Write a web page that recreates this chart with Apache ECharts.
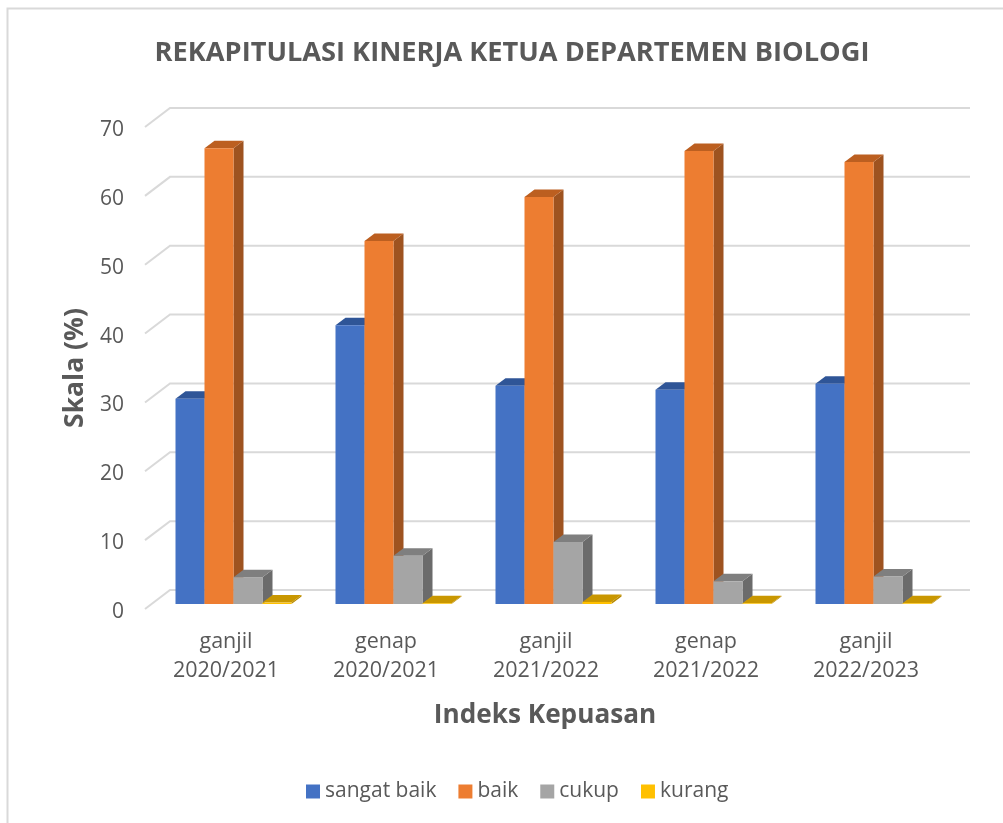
<!DOCTYPE html>
<html><head><meta charset="utf-8">
<style>html,body{margin:0;padding:0;background:#fff}#c{width:1003px;height:823px}</style>
<script src="https://cdn.jsdelivr.net/npm/echarts@6/dist/echarts.min.js"></script>
</head><body><div id="c"></div>
<script>
const categories = ['ganjil\n2020/2021','genap\n2020/2021','ganjil\n2021/2022','genap\n2021/2022','ganjil\n2022/2023'];
const sangatBaik = [29.8, 40.5, 31.7, 31.1, 32.0];
const baik = [66.2, 52.7, 59.1, 65.8, 64.2];
const cukup = [3.9, 7.0, 9.0, 3.3, 4.0];
const kurang = [0.2, 0.1, 0.3, 0.1, 0.1];
const yTicks = [0,10,20,30,40,50,60,70];

const FONT = '"Open Sans", "Noto Sans", sans-serif';
const TEXT = '#595959';
const WALL = [25,-19], PLANE = [8.5,-5], DEPTH = [10,-7.5];
const BAR_SHARE = 29/160, GRID_LINE = '#d9d9d9';

const chart = echarts.init(document.getElementById('c'), null, {renderer:'canvas'});

function barSeries(name, data, index, front, side, top){
  return {
    name, type:'custom', coordinateSystem:'cartesian2d', z:3,
    itemStyle:{color:front},
    data:data.map((v,i)=>[i,v]),
    encode:{x:0,y:1},
    renderItem(params, api){
      const bw = api.size([1,0])[0]*BAR_SHARE;
      const t = api.coord([api.value(0), api.value(1)]);
      const b = api.coord([api.value(0), 0]);
      const x0 = t[0] + PLANE[0] + (index-2)*bw, x1 = x0+bw;
      const yt = t[1] + PLANE[1], yb = b[1] + PLANE[1];
      const dx = DEPTH[0], dy = DEPTH[1];
      return {type:'group', children:[
        {type:'polygon', shape:{points:[[x1,yt],[x1+dx,yt+dy],[x1+dx,yb+dy],[x1,yb]]}, style:{fill:side}},
        {type:'polygon', shape:{points:[[x0,yt],[x0+dx,yt+dy],[x1+dx,yt+dy],[x1,yt]]}, style:{fill:top}},
        {type:'rect', shape:{x:x0,y:yt,width:bw,height:yb-yt}, style:{fill:front}}
      ]};
    }
  };
}

const wallSeries = {
  type:'custom', coordinateSystem:'cartesian2d', z:1, silent:true, legendHoverLink:false,
  data:yTicks.map(v=>[0,v]), encode:{x:0,y:1},
  renderItem(params, api){
    const band = api.size([1,0])[0];
    const p = api.coord([0, api.value(1)]);
    const r = api.coord([categories.length-1, api.value(1)]);
    const lx = p[0]-band/2, rx = r[0]+band/2;
    const bx = lx+WALL[0], by = p[1]+WALL[1];
    return {type:'polyline', shape:{points:[[lx,p[1]],[bx,by],[rx+WALL[0],by]]},
      style:{stroke:GRID_LINE, lineWidth:2, fill:null}};
  }
};

chart.setOption({
  animation:false,
  backgroundColor:'#fff',
  title:{text:'REKAPITULASI KINERJA KETUA DEPARTEMEN BIOLOGI', left:507, top:35, textAlign:'center',
    textStyle:{fontFamily:FONT,fontWeight:'bold',fontSize:27.2,color:TEXT}},
  legend:{bottom:16,left:301,itemWidth:14,itemHeight:14,itemGap:22,icon:'rect',
    data:['sangat baik','baik','cukup','kurang'],
    textStyle:{fontFamily:FONT,fontSize:21,color:TEXT}},
  grid:{left:145,top:127,width:800,height:482},
  xAxis:{type:'category',data:categories,axisLine:{show:false},axisTick:{show:false},splitLine:{show:false},
    axisLabel:{fontFamily:FONT,fontSize:21.5,color:TEXT,lineHeight:29,margin:18,padding:[0,0,0,2]},
    name:'Indeks Kepuasan',nameLocation:'middle',nameGap:94,
    nameTextStyle:{fontFamily:FONT,fontSize:26.2,fontWeight:'bold',color:TEXT}},
  yAxis:{type:'value',min:0,max:70,interval:10,axisLine:{show:false},axisTick:{show:false},splitLine:{show:false},
    axisLabel:{fontFamily:FONT,fontSize:21,color:TEXT,margin:21,verticalAlign:'top',lineHeight:6},
    name:'Skala (%)',nameLocation:'middle',nameGap:56,nameRotate:90,
    nameTextStyle:{fontFamily:FONT,fontSize:26.5,fontWeight:'bold',color:TEXT}},
  graphic:[{type:'polyline',z:-1,shape:{points:[[7.5,823],[7.5,8.5],[1003,8.5]]},style:{fill:null,stroke:'#d9d9d9',lineWidth:2}}],
  series:[
    wallSeries,
    barSeries('sangat baik',sangatBaik,0,'#4472C4','#335593','#2F5597'),
    barSeries('baik',baik,1,'#ED7D31','#9E5320','#BC5F20'),
    barSeries('cukup',cukup,2,'#A5A5A5','#6B6B6B','#7F7F7F'),
    barSeries('kurang',kurang,3,'#FFC000','#B88A00','#C99700')
  ]
});
</script></body></html>
